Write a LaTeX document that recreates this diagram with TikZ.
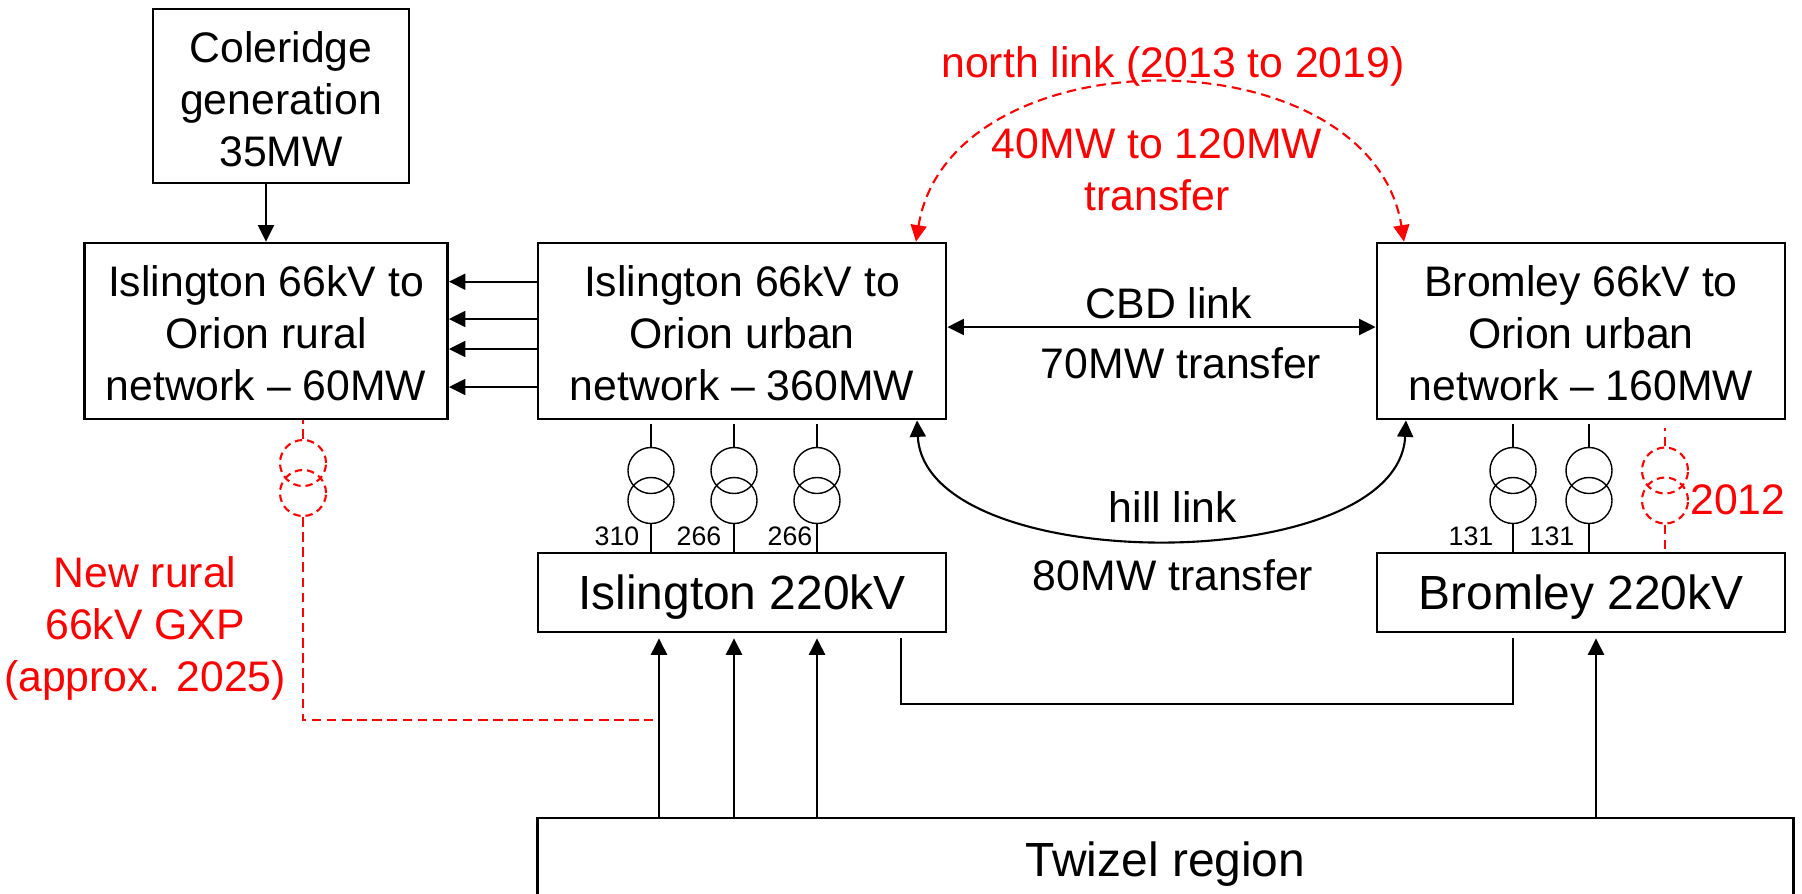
\documentclass[tikz,border=0pt]{standalone}
\usepackage{fontspec}
\setmainfont{Liberation Sans}
\usetikzlibrary{arrows.meta,calc}
\tikzset{
	x=0.01cm, y=-0.01cm,
	frame/.style={draw=black, line width=0.75pt, inner sep=0pt, align=center},
	box/.style={frame, font=\fontsize{12.15}{14.8}\selectfont},
	bigbox/.style={frame, text depth=0pt, font=\fontsize{13.63}{15}\selectfont},
	note/.style={inner sep=0pt, align=center, font=\fontsize{12.15}{14.8}\selectfont},
	rating/.style={inner sep=0pt, font=\fontsize{7.6}{9}\selectfont},
	winding/.style={draw, circle, inner sep=0pt, minimum size=0.46cm},
	wire/.style={line width=0.6pt},
	tip/.style={>={Triangle[length=0.165cm,width=0.16cm]}},
	feed/.style={wire, tip, ->},
	planned/.style={red, line width=0.6pt, dash pattern=on 2.7pt off 1.6pt},
	plannedcoil/.style={red, line width=0.6pt, dash pattern=on 2.1pt off 1.4pt},
}
\def\xformer[#1](#2)(#3,#4){%
	\node[winding,#1] (#2up) at (#3,#4) {};
	\node[winding,#1] (#2lo) at (#3,#4+30) {};
}
\def\drop#1{\rule{0pt}{#1}}

\begin{document}
\begin{tikzpicture}
	\useasboundingbox[clip] (0,0) rectangle (1802,893);

	% boxes
	\node[box, minimum width=2.56cm, minimum height=1.74cm] (coleridge) at (281,96) {\drop{10.7pt}Coleridge\\generation\\35MW};
	\node[box, minimum width=3.63cm, minimum height=1.76cm] (rural) at (266,331) {\drop{10.3pt}Islington 66kV to\\Orion rural\\network -- 60MW};
	\node[box, minimum width=4.08cm, minimum height=1.76cm] (urban) at (742,331) {\drop{10.3pt}Islington 66kV to\\Orion urban\\network -- 360MW};
	\node[box, minimum width=4.08cm, minimum height=1.76cm] (bromley) at (1581,331) {\drop{10.3pt}Bromley 66kV to\\Orion urban\\network -- 160MW};
	\node[bigbox, minimum width=4.08cm, minimum height=0.79cm] (isl220) at (742,592.5) {Islington 220kV};
	\node[bigbox, minimum width=4.08cm, minimum height=0.79cm] (bro220) at (1581,592.5) {Bromley 220kV};
	\node[bigbox, minimum width=12.55cm, minimum height=0.82cm] (twizel) at (1165.5,859) {Twizel region};

	% transformers
	\xformer[](ta)(651,470.5)
	\xformer[](tb)(734,470.5)
	\xformer[](tc)(817,470.5)
	\xformer[](td)(1513,470.5)
	\xformer[](te)(1589,470.5)
	\xformer[plannedcoil](tf)(303,463)
	\xformer[plannedcoil](tg)(1665,470.5)

	\node[rating] (ra) at (617,536) {310};
	\node[rating] (rb) at (699,536) {266};
	\node[rating] (rc) at (790,536) {266};
	\node[rating] (rd) at (1471,536) {131};
	\node[rating] (re) at (1552,536) {131};

	\draw[wire] (taup.north) -- (651,424);
	\draw[wire] (talo.south) -- (isl220.north -| talo);
	\draw[wire] (tbup.north) -- (734,424);
	\draw[wire] (tblo.south) -- (isl220.north -| tblo);
	\draw[wire] (tcup.north) -- (817,424);
	\draw[wire] (tclo.south) -- (isl220.north -| tclo);
	\draw[wire] (tdup.north) -- (1513,424);
	\draw[wire] (tdlo.south) -- (bro220.north -| tdlo);
	\draw[wire] (teup.north) -- (1589,424);
	\draw[wire] (telo.south) -- (bro220.north -| telo);

	% infeed from the south
	\coordinate (feeda) at (659,700);
	\coordinate (feedb) at (1596,700);
	\draw[feed, shorten >=1.4pt] (twizel.north -| feeda) -- (isl220.south -| feeda);
	\draw[feed, shorten >=1.4pt] (twizel.north -| tblo) -- (isl220.south -| tblo);
	\draw[feed, shorten >=1.4pt] (twizel.north -| tclo) -- (isl220.south -| tclo);
	\draw[feed, shorten >=1.4pt] (twizel.north -| feedb) -- (bro220.south -| feedb);

	% 220kV tie
	\coordinate (tiew) at (901,704);
	\draw[wire, shorten <=1.4pt, shorten >=1.4pt] (isl220.south -| tiew) -- (tiew) -- (tiew -| tdlo) -- (bro220.south -| tdlo);

	% feeders to the rural network
	\coordinate (fa) at (500,281.7);
	\coordinate (fb) at (500,319);
	\coordinate (fc) at (500,349);
	\coordinate (fd) at (500,387);
	\draw[feed] (urban.west |- fa) -- (rural.east |- fa);
	\draw[feed] (urban.west |- fb) -- (rural.east |- fb);
	\draw[feed] (urban.west |- fc) -- (rural.east |- fc);
	\draw[feed] (urban.west |- fd) -- (rural.east |- fd);
	\draw[feed] (coleridge.south -| rural.north) -- (rural.north);

	% links
	\draw[wire, tip, <->] (urban.east |- 0,327) -- (bromley.west |- 0,327);
	\draw[wire, tip, <->] (urban.south -| 917,0) .. controls (925,578) and (1398,578) .. (bromley.south -| 1406,0);
	\draw[planned, tip, <->] (urban.north -| 916,0) .. controls (950,32) and (1370,32) .. (bromley.north -| 1404,0);

	\node[note] (cbd) at (1169,303) {CBD link};
	\node[note] (cbdmw) at (1181,363) {70MW transfer};
	\node[note] (hill) at (1173,507) {hill link};
	\node[note] (hillmw) at (1173,575) {80MW transfer};

	% planned items
	\draw[planned] (tfup.north) -- (rural.south -| tfup);
	\coordinate (gxp) at (653,720);
	\draw[planned] (tflo.south) -- (tflo |- gxp) -- (gxp);
	\draw[planned] (tgup.north) -- (1665,428);
	\draw[planned] (tglo.south) -- (bro220.north -| tglo);

	\node[note, red] (north) at (1173,66) {north link (2013 to 2019)};
	\node[note, red] (northmw) at (1157,170) {40MW to 120MW\\transfer};
	\node[note, red] (gxptext) at (145,628.5) {New rural\\66kV GXP\\(approx. 2025)};
	\node[note, red] (year) at (1738,500) {2012};
\end{tikzpicture}
\end{document}
